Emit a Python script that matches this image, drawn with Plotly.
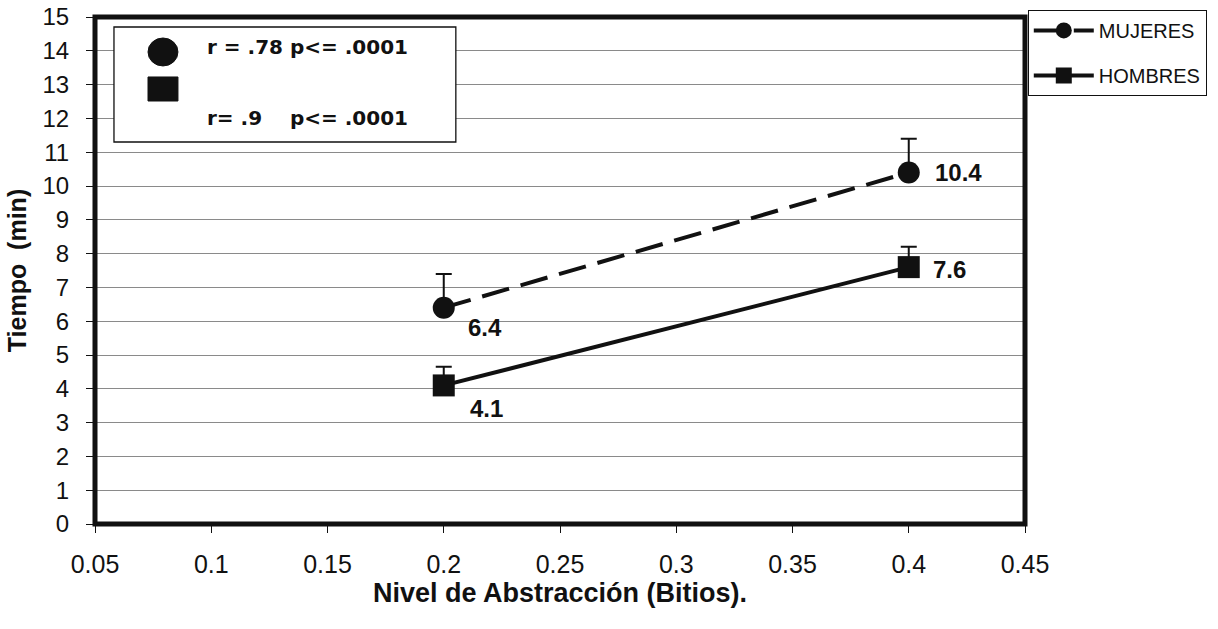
import plotly.graph_objects as go

# Nivel de abstracción (bitios) y tiempo medio (min) por grupo
niveles = [0.2, 0.4]
mujeres = [6.4, 10.4]
hombres = [4.1, 7.6]
err_mujeres = [1.0, 1.0]
err_hombres = [0.55, 0.6]

FONT = "Liberation Sans, Arial, sans-serif"
WIDE = "DejaVu Sans, Liberation Sans, sans-serif"
INK = "#111111"

fig = go.Figure()

fig.add_trace(go.Scatter(
    x=niveles, y=mujeres, name="MUJERES", mode="lines+markers",
    line=dict(color=INK, width=4, dash="28px,12px"),
    marker=dict(symbol="circle", size=22, color=INK),
    error_y=dict(type="data", array=err_mujeres, arrayminus=[0, 0],
                 symmetric=False, color=INK, thickness=2, width=8),
    legendgroup="m",
))
fig.add_trace(go.Scatter(
    x=niveles, y=hombres, name="HOMBRES", mode="lines+markers",
    line=dict(color=INK, width=4),
    marker=dict(symbol="square", size=22, color=INK),
    error_y=dict(type="data", array=err_hombres, arrayminus=[0, 0],
                 symmetric=False, color=INK, thickness=2, width=8),
    legendgroup="h",
))

# Etiquetas de valor junto a cada punto
annotations = []
offsets_m = [(22, -20), (24, 0)]
offsets_h = [(24, -23), (22, -2)]
for serie, offsets in ((mujeres, offsets_m), (hombres, offsets_h)):
    for xv, yv, (dx, dy) in zip(niveles, serie, offsets):
        annotations.append(dict(x=xv, y=yv, xref="x", yref="y", text=f"{yv:.1f}",
                                showarrow=False, xanchor="left", yanchor="middle",
                                xshift=dx, yshift=dy,
                                font=dict(family=FONT, size=24, color=INK, weight="bold")))

# Recuadro con las correlaciones
annotations.append(dict(x=0.118, y=0.941, xref="paper", yref="paper",
                        text="r = .78 p&lt;= .0001", showarrow=False,
                        xanchor="left", yanchor="middle",
                        font=dict(family=WIDE, size=20, color=INK, weight="bold")))
annotations.append(dict(x=0.118, y=0.8008, xref="paper", yref="paper",
                        text="r= .9\u00a0\u00a0\u00a0\u00a0p&lt;= .0001", showarrow=False,
                        xanchor="left", yanchor="middle",
                        font=dict(family=WIDE, size=20, color=INK, weight="bold")))

shapes = [
    # marco grueso del área de trazado
    dict(type="rect", xref="paper", yref="paper", x0=0, x1=1, y0=0, y1=1,
         line=dict(color=INK, width=5), layer="above"),
    # recuadro de correlaciones
    dict(type="rect", xref="paper", yref="paper", x0=0.0204, x1=0.388,
         y0=0.7535, y1=0.9803, line=dict(color=INK, width=1.3),
         fillcolor="white", layer="above"),
    dict(type="circle", xref="paper", yref="paper", x0=0.057, x1=0.0892,
         y0=0.9034, y1=0.9586, line=dict(color=INK, width=1),
         fillcolor=INK, layer="above"),
    dict(type="rect", xref="paper", yref="paper", x0=0.057, x1=0.0892,
         y0=0.8343, y1=0.8817, line=dict(color=INK, width=1),
         fillcolor=INK, layer="above"),
]

fig.update_layout(
    width=1218, height=629,
    margin=dict(l=95, r=193, t=17, b=105, autoexpand=False),
    paper_bgcolor="white", plot_bgcolor="white",
    font=dict(family=FONT, color=INK),
    showlegend=True,
    legend=dict(x=1.003, y=1.014, xanchor="left", yanchor="top",
                bordercolor=INK, borderwidth=1, bgcolor="white",
                font=dict(family=FONT, size=20, color=INK),
                tracegroupgap=16, itemwidth=60),
    xaxis=dict(range=[0.05, 0.45], dtick=0.05, tick0=0.05, automargin=False,
               showgrid=False, zeroline=False, showline=False,
               ticks="outside", ticklen=8, tickcolor=INK, tickwidth=1,
               ticklabelstandoff=10,
               tickfont=dict(family=FONT, size=25, color=INK),
               title=dict(text="<b>Nivel de Abstracción (Bitios).</b>",
                          font=dict(family=FONT, size=27, color=INK), standoff=4)),
    yaxis=dict(range=[0, 15], dtick=1, tick0=0, automargin=False,
               showgrid=True, gridcolor="#8a8a8a", gridwidth=1.2,
               zeroline=False, showline=False,
               ticks="outside", ticklen=8, tickcolor=INK, tickwidth=1,
               ticklabelstandoff=12,
               tickfont=dict(family=FONT, size=24, color=INK),
               title=dict(text="<b>Tiempo  (min)</b>",
                          font=dict(family=FONT, size=25, color=INK), standoff=8)),
    annotations=annotations,
    shapes=shapes,
)

fig.write_html("out.html")
